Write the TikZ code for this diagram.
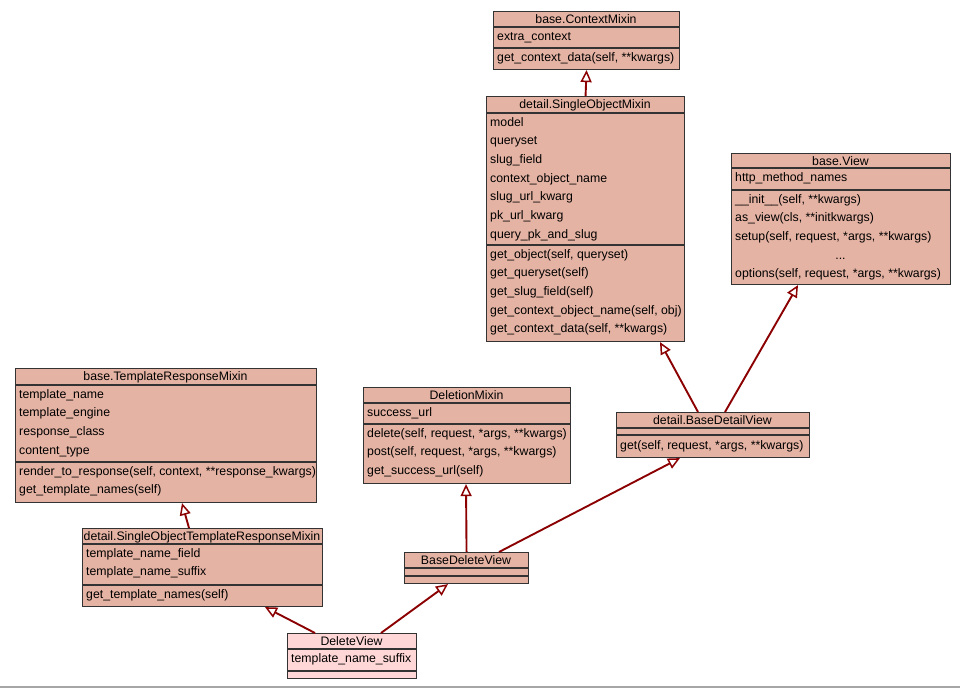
\documentclass[tikz,border=0pt]{standalone}
\usepackage{fontspec}
\setmainfont{Liberation Sans}
\usetikzlibrary{arrows.meta,positioning}
\definecolor{clsfill}{HTML}{E5B3A3}
\definecolor{leaffill}{HTML}{FFD7D7}
\definecolor{inhred}{HTML}{8B0000}
% horizontal rule across a class box at height #2
\newcommand{\sepline}[2]{\draw[clsline] (#1.west |- 0,#2) -- (#1.east |- 0,#2);}

\begin{document}
\begin{tikzpicture}[x=1pt, y=-1pt,
    font=\fontsize{12.3}{14}\selectfont,
    cls/.style={draw=black!80, line width=1.1pt, fill=clsfill, inner sep=0pt, anchor=north west},
    clsline/.style={draw=black!80, line width=1.1pt},
    title/.style={inner sep=0pt, anchor=base},
    row/.style={inner sep=0pt, anchor=base west},
    inh/.style={draw=inhred, line width=1.9pt, -{Triangle[open, length=12pt, width=11pt, line width=1.5pt]}}]

    \useasboundingbox (0,0) rectangle (960,688);

    % base.ContextMixin
    \node[cls, minimum width=186pt, minimum height=58pt] (ctx) at (493,11) {};
    \sepline{ctx}{27} \sepline{ctx}{48}
    \node[title] at (586,23) {base.ContextMixin};
    \node[row] at (497,40) {extra\_context};
    \node[row] at (497,61) {get\_context\_data(self, **kwargs)};

    % detail.SingleObjectMixin
    \node[cls, minimum width=198pt, minimum height=245pt] (som) at (486,96) {};
    \sepline{som}{113} \sepline{som}{245}
    \node[title] at (585,108) {detail.SingleObjectMixin};
    \foreach \t [count=\i from 0] in {model, queryset, slug\_field, context\_object\_name,
        slug\_url\_kwarg, pk\_url\_kwarg, query\_pk\_and\_slug}
        \node[row] at (490,126+\i*18.7) {\t};
    \foreach \t [count=\i from 0] in {{get\_object(self, queryset)}, get\_queryset(self),
        get\_slug\_field(self), {get\_context\_object\_name(self, obj)}, {get\_context\_data(self, **kwargs)}}
        \node[row] at (490,258+\i*18.7) {\t};

    % base.View
    \node[cls, minimum width=219pt, minimum height=131pt] (view) at (731,153) {};
    \sepline{view}{168} \sepline{view}{190}
    \node[title] at (840.5,165) {base.View};
    \node[row] at (735,181) {http\_method\_names};
    \node[row] at (735,203) {\_\_init\_\_(self, **kwargs)};
    \node[row] at (735,221.7) {as\_view(cls, **initkwargs)};
    \node[row] at (735,240.4) {setup(self, request, *args, **kwargs)};
    \node[title] at (840.5,259.1) {...};
    \node[row] at (735,277.8) {options(self, request, *args, **kwargs)};

    % base.TemplateResponseMixin
    \node[cls, minimum width=301pt, minimum height=134pt] (trm) at (15,368) {};
    \sepline{trm}{385} \sepline{trm}{462}
    \node[title] at (165.5,380) {base.TemplateResponseMixin};
    \foreach \t [count=\i from 0] in {template\_name, template\_engine, response\_class, content\_type}
        \node[row] at (19,398+\i*18.7) {\t};
    \node[row] at (19,475) {render\_to\_response(self, context, **response\_kwargs)};
    \node[row] at (19,493.7) {get\_template\_names(self)};

    % DeletionMixin
    \node[cls, minimum width=207pt, minimum height=96pt] (dm) at (363,387) {};
    \sepline{dm}{403} \sepline{dm}{424}
    \node[title] at (466.5,399) {DeletionMixin};
    \node[row] at (367,416) {success\_url};
    \foreach \t [count=\i from 0] in {{delete(self, request, *args, **kwargs)},
        {post(self, request, *args, **kwargs)}, get\_success\_url(self)}
        \node[row] at (367,437+\i*18.7) {\t};

    % detail.BaseDetailView
    \node[cls, minimum width=193pt, minimum height=45pt] (bdv) at (616,412) {};
    \sepline{bdv}{428} \sepline{bdv}{435}
    \node[title] at (712.5,424) {detail.BaseDetailView};
    \node[row] at (620,449) {get(self, request, *args, **kwargs)};

    % detail.SingleObjectTemplateResponseMixin
    \node[cls, minimum width=240pt, minimum height=78pt] (sotrm) at (82,528) {};
    \sepline{sotrm}{544} \sepline{sotrm}{585}
    \node[title] at (202,540) {detail.SingleObjectTemplateResponseMixin};
    \node[row] at (86,557) {template\_name\_field};
    \node[row] at (86,575.7) {template\_name\_suffix};
    \node[row] at (86,598) {get\_template\_names(self)};

    % BaseDeleteView
    \node[cls, minimum width=124pt, minimum height=31pt] (bdlv) at (404,552) {};
    \sepline{bdlv}{568} \sepline{bdlv}{576}
    \node[title] at (466,564) {BaseDeleteView};

    % DeleteView
    \node[cls, fill=leaffill, minimum width=129pt, minimum height=45pt] (dv) at (287,633) {};
    \sepline{dv}{649} \sepline{dv}{671}
    \node[title] at (351.5,645) {DeleteView};
    \node[row] at (291,662) {template\_name\_suffix};

    % inheritance
    \draw[inh] (som.north) -- (ctx.south);
    \draw[inh] (bdv.north -| 698,0) -- (som.south -| 660,0);
    \draw[inh] (bdv.north -| 725,0) -- (view.south -| 798,0);
    \draw[inh] (bdlv.north) -- (dm.south -| 466,0);
    \draw[inh] (bdlv.north -| 499,0) -- (bdv.south -| 680,0);
    \draw[inh] (sotrm.north -| 189,0) -- (trm.south -| 182,0);
    \draw[inh] (dv.north -| 315,0) -- (sotrm.south -| 265,0);
    \draw[inh] (dv.north -| 381,0) -- (bdlv.south -| 448,0);

    % bottom edge
    \draw[black!35, line width=2pt] (0,687) -- (960,687);
\end{tikzpicture}
\end{document}
